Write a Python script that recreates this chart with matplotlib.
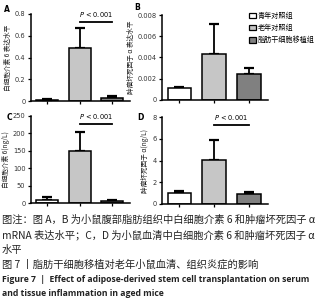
import matplotlib
matplotlib.use("Agg")
import matplotlib.pyplot as plt
from matplotlib.patches import Patch

plt.rcParams["font.family"] = ["Noto Sans CJK SC", "DejaVu Sans"]

groups = ["青年对照组", "老年对照组", "脂肪干细胞移植组"]
colors = ["white", "#c6c6c6", "#808080"]

# panel A: IL-6 mRNA in adipose tissue
a_mean = [0.012, 0.485, 0.03]
a_err = [0.006, 0.19, 0.017]
# panel B: TNF-alpha mRNA in adipose tissue
b_mean = [0.00113, 0.0043, 0.00245]
b_err = [0.00013, 0.0029, 0.0006]
# panel C: serum IL-6 (ng/L)
c_mean = [10, 148, 7]
c_err = [6, 55, 3]
# panel D: serum TNF-alpha (ng/L)
d_mean = [1.0, 4.05, 0.95]
d_err = [0.22, 1.8, 0.18]

W, H = 330, 300
fig = plt.figure(figsize=(W / 100, H / 100), dpi=100)


def add_axes_px(left, top, right, bottom):
    return fig.add_axes([left / W, 1 - bottom / H, (right - left) / W, (bottom - top) / H])


def draw_panel(ax, means, errs, ymax, yticks, ticklabels, ylabel, p_text):
    x = range(len(means))
    ax.bar(x, means, width=0.68, color=colors, edgecolor="black", linewidth=1.1, zorder=2)
    ax.errorbar(x, means, yerr=[[0] * len(errs), errs], fmt="none", ecolor="black",
                elinewidth=1.3, capsize=3.8, capthick=1.6, zorder=1)
    ax.set_xlim(-0.5, 2.55)
    ax.set_ylim(0, ymax)
    ax.set_yticks(yticks)
    ax.set_yticklabels(ticklabels, fontsize=4.8, color="#333333", family=["DejaVu Sans"])
    ax.set_xticks(list(x))
    ax.set_xticklabels([])
    ax.tick_params(axis="both", length=2.5, width=0.9, pad=1.5)
    for side in ["top", "right"]:
        ax.spines[side].set_visible(False)
    for side in ["left", "bottom"]:
        ax.spines[side].set_linewidth(1.1)
    ax.set_ylabel(ylabel, fontsize=4.8, labelpad=2, color="#222222")
    if p_text:
        yl = ymax * 0.905
        ax.plot([1, 2], [yl, yl], color="black", lw=1.3, clip_on=False)
        ax.text(1.5, yl + ymax * 0.035, "$P$ < 0.001", ha="center", va="bottom",
                fontsize=4.8, family=["DejaVu Sans"])


ax_a = add_axes_px(31, 14, 130, 101)
draw_panel(ax_a, a_mean, a_err, 0.8, [0, 0.2, 0.4, 0.6, 0.8],
           ["0", "0.2", "0.4", "0.6", "0.8"], "白细胞介素 6 表达水平", True)

ax_b = add_axes_px(162, 15, 268, 100)
draw_panel(ax_b, b_mean, b_err, 0.008, [0, 0.002, 0.004, 0.006, 0.008],
           ["0", "0.002", "0.004", "0.006", "0.008"], "肿瘤坏死因子 α 表达水平", False)

ax_c = add_axes_px(31, 116, 130, 203)
draw_panel(ax_c, c_mean, c_err, 250, [0, 50, 100, 150, 200, 250],
           ["0", "50", "100", "150", "200", "250"], "白细胞介素 6(ng/L)", True)

ax_d = add_axes_px(162, 117, 268, 204)
draw_panel(ax_d, d_mean, d_err, 8, [0, 2, 4, 6, 8],
           ["0", "2", "4", "6", "8"], "肿瘤坏死因子 α(ng/L)", True)

# panel letters
for lbl, (px, py) in zip("ABCD", [(4, 10), (134, 8), (7, 118), (137, 118)]):
    fig.text(px / W, 1 - py / H, lbl, fontsize=5.5, fontweight="bold",
             family=["DejaVu Sans"], va="center")

handles = [Patch(facecolor=c, edgecolor="black", linewidth=0.9) for c in colors]
fig.legend(handles, groups, loc="upper left", bbox_to_anchor=(246 / W, 1 - 9 / H),
           frameon=False, fontsize=5.1, handlelength=1.0, handleheight=0.85,
           handletextpad=0.3, labelspacing=0.6, borderaxespad=0)

caption = [
    ("图注：图 A，B 为小鼠腹部脂肪组织中白细胞介素 6 和肿瘤坏死因子 α", 220),
    ("mRNA 表达水平；C，D 为小鼠血清中白细胞介素 6 和肿瘤坏死因子 α", 235),
    ("水平", 250),
    ("图 7 丨脂肪干细胞移植对老年小鼠血清、组织炎症的影响", 265),
]
for txt, py in caption:
    fig.text(2 / W, 1 - py / H, txt, fontsize=7.4, va="center", color="#222222")

fig.text(2 / W, 1 - 280 / H,
         "Figure 7  |  Effect of adipose-derived stem cell transplantation on serum",
         fontsize=6.2, va="center", fontweight="bold", color="#222222",
         family=["Open Sans", "DejaVu Sans"])
fig.text(2 / W, 1 - 293 / H, "and tissue inflammation in aged mice",
         fontsize=6.2, va="center", fontweight="bold", color="#222222",
         family=["Open Sans", "DejaVu Sans"])

fig.savefig("out.png", dpi=100)
